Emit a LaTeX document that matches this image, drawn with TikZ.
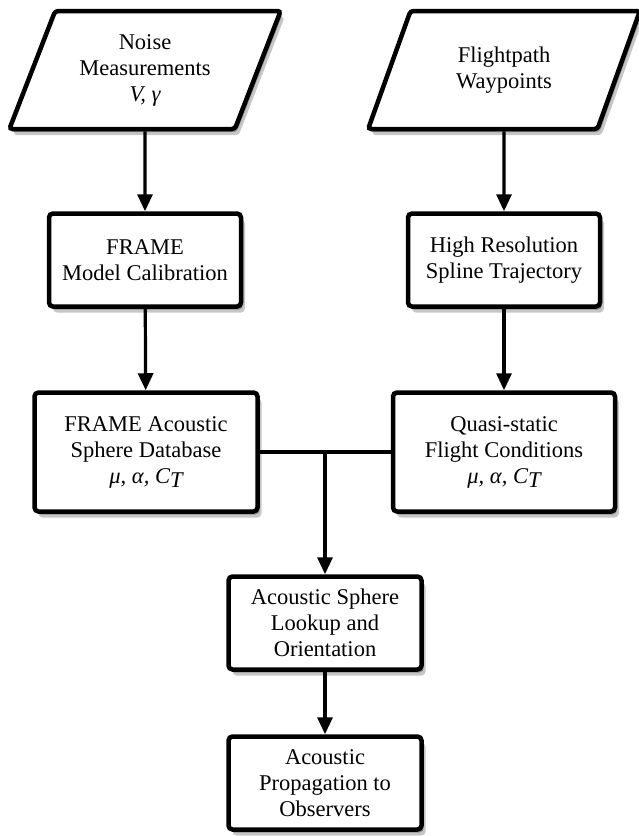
\documentclass[tikz,border=0pt]{standalone}
\usepackage{fontspec}
\setmainfont{Liberation Serif}
\usepackage{tikz}
\usetikzlibrary{shapes.geometric,shadows,arrows.meta}

\begin{document}
\begin{tikzpicture}[x=1pt,y=-1pt,
        every node/.style={font=\fontsize{22.5}{26}\selectfont,align=center},
        shade/.style={drop shadow={shadow xshift=2pt,shadow yshift=-3pt,opacity=.75},
                      drop shadow={shadow xshift=4pt,shadow yshift=-6pt,opacity=.45}},
        io/.style={draw,line width=4.5pt,fill=white,shade,rounded corners=3pt,
                   trapezium,trapezium left angle=65,trapezium right angle=115,
                   trapezium stretches=true,minimum width=272pt,minimum height=118pt,inner sep=0pt},
        box/.style={draw,line width=4.5pt,fill=white,shade,rounded corners=4pt,
                    rectangle,minimum width=192pt,minimum height=93pt,inner sep=0pt},
        flow/.style={line width=3.2pt,-{Triangle[length=17pt,width=15pt]}}]
        \useasboundingbox (0,0) rectangle (638,836);
        \node [io](noise)at(145,70){Noise\\Measurements\\{\itshape V, γ}};
        \node [io](path)at(504,70){Flightpath\\Waypoints};
        \node [box](calib)at(145,260){FRAME\\Model Calibration};
        \node [box](spline)at(504,260){High Resolution\\Spline Trajectory};
        \node [box,minimum width=223pt,minimum height=119pt](sphere)at(146,452){FRAME Acoustic\\Sphere Database\\{\itshape μ, α, C\raisebox{-0.45ex}{T}}};
        \node [box,minimum width=222pt,minimum height=119pt](quasi)at(504,452){Quasi-static\\Flight Conditions\\{\itshape μ, α, C\raisebox{-0.45ex}{T}}};
        \node [box,minimum width=193pt](lookup)at(325,623){Acoustic Sphere\\Lookup and\\Orientation};
        \node [box,minimum width=193pt](obs)at(325,783){Acoustic\\Propagation to\\Observers};
        \coordinate(j)at(lookup.north |- sphere.east);
        \draw[flow](noise)--(calib);
        \draw[flow](path)--(spline);
        \draw[flow](calib)--(sphere);
        \draw[flow](spline)--(quasi);
        \draw[line width=3.2pt](sphere.east)--(quasi.west);
        \draw[flow](j)--(lookup);
        \draw[flow](lookup)--(obs);
\end{tikzpicture}
\end{document}
